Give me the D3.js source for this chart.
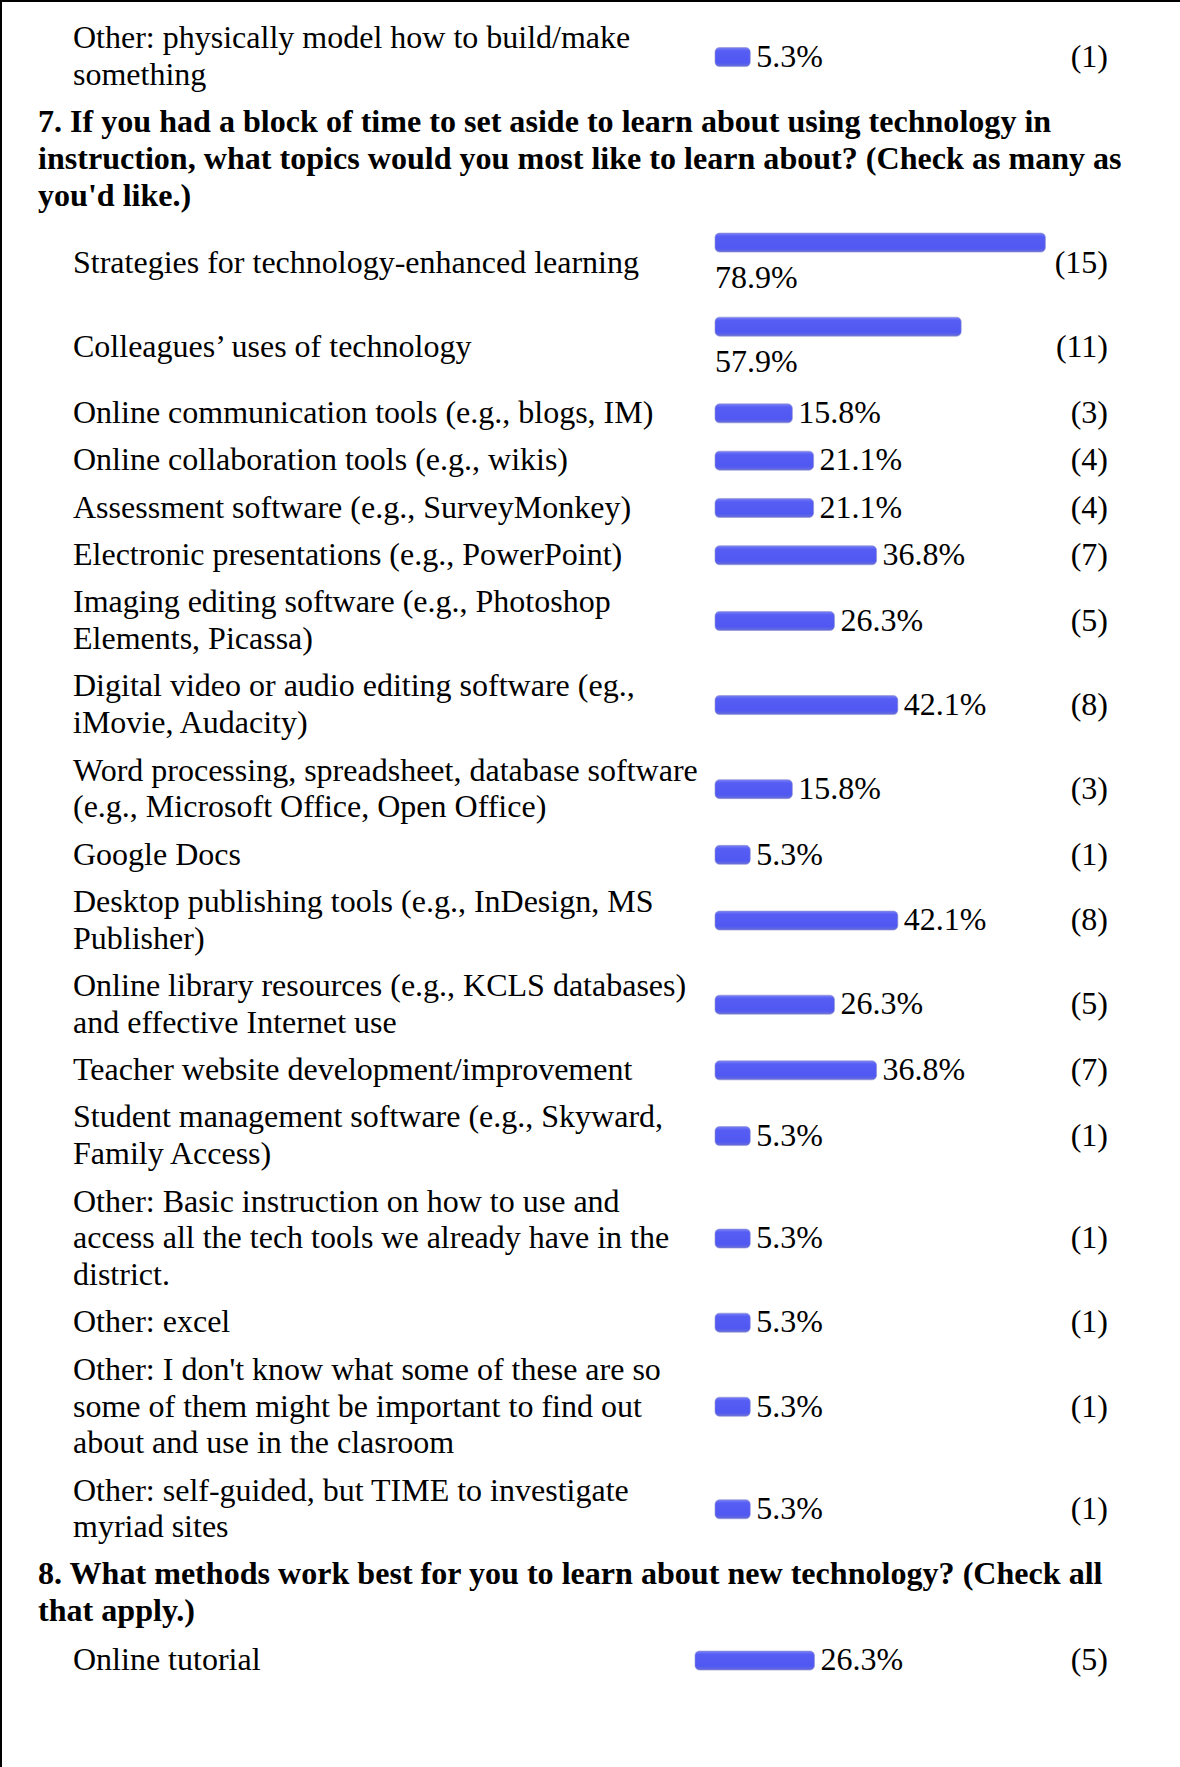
<!DOCTYPE html>
<html>
<head>
<meta charset="utf-8">
<script src="https://cdn.jsdelivr.net/npm/d3@7"></script>
<style>
  html, body { margin: 0; padding: 0; background: #fff; }
  svg { display: block; }
</style>
</head>
<body>
<svg id="chart"></svg>
<script>
const width = 1180;
const height = 1767;

// tail of question 6 (cut off at top of page)
const q6Labels = [["Other: physically model how to build/make", "something"]];
const q6Percents = [5.3];
const q6Counts = [1];

const q7Title = [
  "7. If you had a block of time to set aside to learn about using technology in",
  "instruction, what topics would you most like to learn about? (Check as many as",
  "you'd like.)"
];
const q7Labels = [
  ["Strategies for technology-enhanced learning"],
  ["Colleagues\u2019 uses of technology"],
  ["Online communication tools (e.g., blogs, IM)"],
  ["Online collaboration tools (e.g., wikis)"],
  ["Assessment software (e.g., SurveyMonkey)"],
  ["Electronic presentations (e.g., PowerPoint)"],
  ["Imaging editing software (e.g., Photoshop", "Elements, Picassa)"],
  ["Digital video or audio editing software (eg.,", "iMovie, Audacity)"],
  ["Word processing, spreadsheet, database software", "(e.g., Microsoft Office, Open Office)"],
  ["Google Docs"],
  ["Desktop publishing tools (e.g., InDesign, MS", "Publisher)"],
  ["Online library resources (e.g., KCLS databases)", "and effective Internet use"],
  ["Teacher website development/improvement"],
  ["Student management software (e.g., Skyward,", "Family Access)"],
  ["Other: Basic instruction on how to use and", "access all the tech tools we already have in the", "district."],
  ["Other: excel"],
  ["Other: I don't know what some of these are so", "some of them might be important to find out", "about and use in the clasroom"],
  ["Other: self-guided, but TIME to investigate", "myriad sites"]
];
const q7Percents = [78.9, 57.9, 15.8, 21.1, 21.1, 36.8, 26.3, 42.1, 15.8, 5.3, 42.1, 26.3, 36.8, 5.3, 5.3, 5.3, 5.3, 5.3];
const q7Counts = [15, 11, 3, 4, 4, 7, 5, 8, 3, 1, 8, 5, 7, 1, 1, 1, 1, 1];

const q8Title = [
  "8. What methods work best for you to learn about new technology? (Check all",
  "that apply.)"
];
const q8Labels = [["Online tutorial"]];
const q8Percents = [26.3];
const q8Counts = [5];

const fontSize = 32;
const titleSize = 32.1;
const lineH = 36.8;
const rowPad = 10.5;
const labelX = 73, titleX = 38, countX = 1108;
const cellWidth = 300;
const barH = 19;
const x = d3.scaleLinear([0, 100], [14, 415]);
const pct = d => d3.format(".1f")(d) + "%";

const sections = [
  {title: null, labels: q6Labels, values: q6Percents, counts: q6Counts, barX: 715},
  {title: q7Title, labels: q7Labels, values: q7Percents, counts: q7Counts, barX: 715},
  {title: q8Title, labels: q8Labels, values: q8Percents, counts: q8Counts, barX: 695}
];

const svg = d3.select("#chart")
  .attr("width", width)
  .attr("height", height)
  .attr("viewBox", [0, 0, width, height])
  .style("font-family", "'Liberation Serif', 'Times New Roman', Times, serif")
  .style("font-size", fontSize + "px");

const defs = svg.append("defs");
const grad = defs.append("linearGradient").attr("id", "barGrad")
  .attr("x1", 0).attr("y1", 0).attr("x2", 0).attr("y2", 1);
grad.append("stop").attr("offset", "0%").attr("stop-color", "#7a80f4");
grad.append("stop").attr("offset", "18%").attr("stop-color", "#565df4");
grad.append("stop").attr("offset", "80%").attr("stop-color", "#5058f2");
grad.append("stop").attr("offset", "100%").attr("stop-color", "#6a6fd8");

svg.append("rect").attr("width", width).attr("height", height).attr("fill", "#fff");

let y = 14;

sections.forEach(sec => {
  if (sec.title) {
    y += 5;
    svg.append("g").selectAll("text")
      .data(sec.title)
      .join("text")
        .attr("x", titleX)
        .attr("y", (d, i) => y + i * lineH + 29.1)
        .attr("font-weight", "bold")
        .attr("font-size", titleSize + "px")
        .attr("fill", "#000")
        .text(d => d);
    y += sec.title.length * lineH + 7;
  }

  sec.labels.forEach((lines, i) => {
    const v = sec.values[i];
    const g = svg.append("g");
    const bw = x(v);

    const pctText = g.append("text").attr("fill", "#000").text(pct(v));
    const tw = pctText.node().getComputedTextLength();
    const wrapped = bw + 6 + tw > cellWidth;

    const n = Math.max(lines.length, wrapped ? 2 : 1);
    const h = n * lineH + rowPad;
    const c = y + h / 2;

    g.append("g").selectAll("text")
      .data(lines)
      .join("text")
        .attr("x", labelX)
        .attr("y", (d, j) => c - lines.length * lineH / 2 + (j + 0.5) * lineH + 10.8)
        .attr("fill", "#000")
        .text(d => d);

    const barCy = wrapped ? c - 20 : c + 1;
    g.append("rect")
      .attr("x", sec.barX)
      .attr("y", barCy - barH / 2)
      .attr("width", bw)
      .attr("height", barH)
      .attr("rx", 4.5)
      .attr("fill", "url(#barGrad)")
      .attr("stroke", "#8e92d0")
      .attr("stroke-width", 0.6);

    if (wrapped) {
      pctText.attr("x", sec.barX).attr("y", c + 25.5);
    } else {
      pctText.attr("x", sec.barX + bw + 6).attr("y", c + 10.8);
    }
    pctText.raise();

    g.append("text")
      .attr("x", countX)
      .attr("y", c + 10.8)
      .attr("text-anchor", "end")
      .attr("fill", "#000")
      .text("(" + sec.counts[i] + ")");

    y += h;
  });
});

// page border (left and top edges)
svg.append("rect").attr("x", 0).attr("y", 0).attr("width", 2).attr("height", height).attr("fill", "#000");
svg.append("rect").attr("x", 0).attr("y", 0).attr("width", width).attr("height", 2).attr("fill", "#000");
</script>
</body>
</html>
